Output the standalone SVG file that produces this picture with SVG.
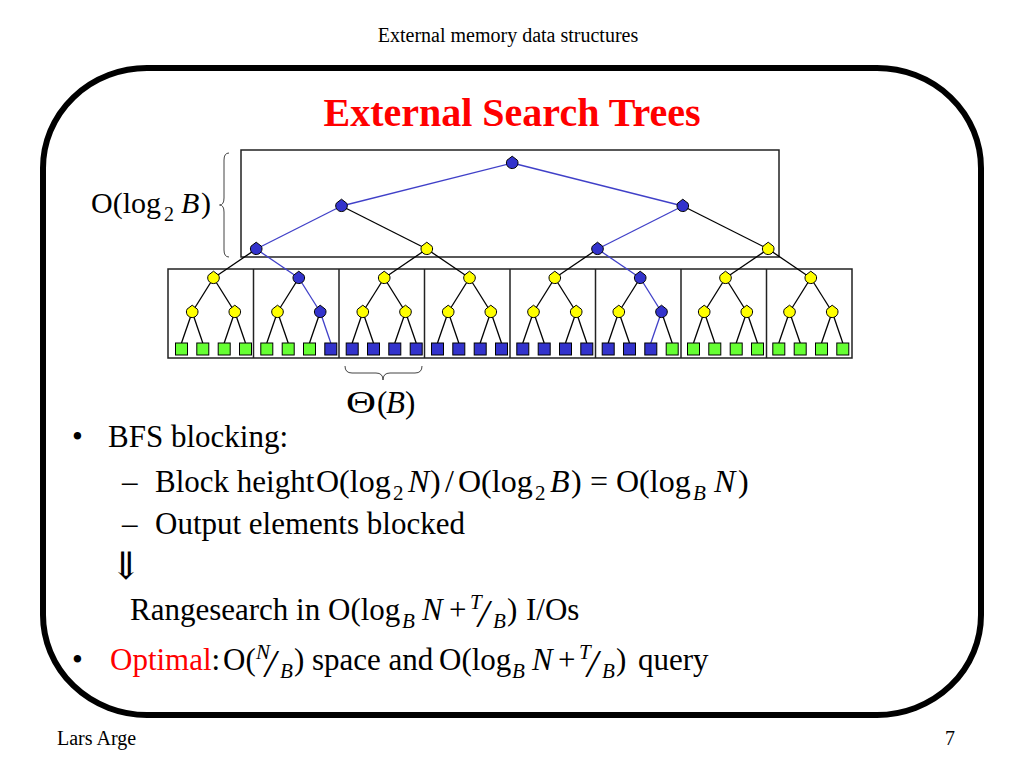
<svg xmlns="http://www.w3.org/2000/svg" xmlns:xlink="http://www.w3.org/1999/xlink" width="1024" height="768" viewBox="0 0 1024 768">
<defs>
<style>
text{font-family:"Liberation Serif","Times New Roman","DejaVu Serif",serif;fill:#000}
.eq{font-size:32px}
.sub{font-size:21px}
.it{font-style:italic}
.sl{font-size:40px;font-style:italic}
.e{stroke:#000;stroke-width:1.3}
.p{stroke:#4040C8;stroke-width:1.3}
.y{fill:#FFFF00;stroke:#000;stroke-width:1}
.b{fill:#3333CC;stroke:#000;stroke-width:1}
.lg{fill:#66FF33;stroke:#000;stroke-width:1}
.lb{fill:#3333CC;stroke:#000;stroke-width:1}
.box{fill:none;stroke:#222;stroke-width:1.5}
.brace{fill:none;stroke:#444;stroke-width:1}
</style>
<path id="nd" d="M0,-6.8 L5.2,-2.8 A5.8,5.8 0 1 1 -5.2,-2.8 Z"/>
</defs>
<rect x="0" y="0" width="1024" height="768" fill="#fff"/>
<text x="508" y="42" text-anchor="middle" font-size="20">External memory data structures</text>
<rect x="43" y="68" width="938" height="647" rx="104" ry="100" fill="none" stroke="#000" stroke-width="6"/>
<text x="512" y="126" text-anchor="middle" font-size="40" font-weight="bold" style="fill:#FF0000">External Search Trees</text>

<g id="blocks">
<rect class="box" x="241" y="150" width="538" height="107"/>
<rect class="box" x="168" y="269" width="684" height="89"/>
<line class="box" x1="253.5" y1="269" x2="253.5" y2="358"/>
<line class="box" x1="339" y1="269" x2="339" y2="358"/>
<line class="box" x1="424.5" y1="269" x2="424.5" y2="358"/>
<line class="box" x1="510" y1="269" x2="510" y2="358"/>
<line class="box" x1="595.5" y1="269" x2="595.5" y2="358"/>
<line class="box" x1="681" y1="269" x2="681" y2="358"/>
<line class="box" x1="766.5" y1="269" x2="766.5" y2="358"/>
</g>

<g id="connectors">
<line class="p" x1="512.2" y1="163" x2="341.5" y2="206"/>
<line class="p" x1="512.2" y1="163" x2="682.8" y2="206"/>
<line class="p" x1="341.5" y1="206" x2="256.2" y2="249"/>
<line class="e" x1="341.5" y1="206" x2="426.8" y2="249"/>
<line class="p" x1="682.8" y1="206" x2="597.5" y2="249"/>
<line class="e" x1="682.8" y1="206" x2="768.2" y2="249"/>
<line class="e" x1="256.2" y1="249" x2="213.5" y2="278"/>
<line class="p" x1="256.2" y1="249" x2="298.8" y2="278"/>
<line class="e" x1="426.8" y1="249" x2="384.2" y2="278"/>
<line class="e" x1="426.8" y1="249" x2="469.5" y2="278"/>
<line class="e" x1="597.5" y1="249" x2="554.8" y2="278"/>
<line class="p" x1="597.5" y1="249" x2="640.2" y2="278"/>
<line class="e" x1="768.2" y1="249" x2="725.5" y2="278"/>
<line class="e" x1="768.2" y1="249" x2="810.8" y2="278"/>
<line class="e" x1="213.5" y1="278" x2="192.2" y2="312"/>
<line class="e" x1="213.5" y1="278" x2="234.8" y2="312"/>
<line class="e" x1="298.8" y1="278" x2="277.5" y2="312"/>
<line class="p" x1="298.8" y1="278" x2="320.2" y2="312"/>
<line class="e" x1="384.2" y1="278" x2="362.8" y2="312"/>
<line class="e" x1="384.2" y1="278" x2="405.5" y2="312"/>
<line class="e" x1="469.5" y1="278" x2="448.2" y2="312"/>
<line class="e" x1="469.5" y1="278" x2="490.8" y2="312"/>
<line class="e" x1="554.8" y1="278" x2="533.5" y2="312"/>
<line class="e" x1="554.8" y1="278" x2="576.2" y2="312"/>
<line class="e" x1="640.2" y1="278" x2="618.8" y2="312"/>
<line class="p" x1="640.2" y1="278" x2="661.5" y2="312"/>
<line class="e" x1="725.5" y1="278" x2="704.2" y2="312"/>
<line class="e" x1="725.5" y1="278" x2="746.8" y2="312"/>
<line class="e" x1="810.8" y1="278" x2="789.5" y2="312"/>
<line class="e" x1="810.8" y1="278" x2="832.2" y2="312"/>
<line class="e" x1="192.2" y1="312" x2="181.5" y2="343"/>
<line class="e" x1="192.2" y1="312" x2="202.8" y2="343"/>
<line class="e" x1="234.8" y1="312" x2="224.2" y2="343"/>
<line class="e" x1="234.8" y1="312" x2="245.5" y2="343"/>
<line class="e" x1="277.5" y1="312" x2="266.8" y2="343"/>
<line class="e" x1="277.5" y1="312" x2="288.2" y2="343"/>
<line class="e" x1="320.2" y1="312" x2="309.5" y2="343"/>
<line class="p" x1="320.2" y1="312" x2="330.8" y2="343"/>
<line class="e" x1="362.8" y1="312" x2="352.2" y2="343"/>
<line class="e" x1="362.8" y1="312" x2="373.5" y2="343"/>
<line class="e" x1="405.5" y1="312" x2="394.8" y2="343"/>
<line class="e" x1="405.5" y1="312" x2="416.2" y2="343"/>
<line class="e" x1="448.2" y1="312" x2="437.5" y2="343"/>
<line class="e" x1="448.2" y1="312" x2="458.8" y2="343"/>
<line class="e" x1="490.8" y1="312" x2="480.2" y2="343"/>
<line class="e" x1="490.8" y1="312" x2="501.5" y2="343"/>
<line class="e" x1="533.5" y1="312" x2="522.8" y2="343"/>
<line class="e" x1="533.5" y1="312" x2="544.2" y2="343"/>
<line class="e" x1="576.2" y1="312" x2="565.5" y2="343"/>
<line class="e" x1="576.2" y1="312" x2="586.8" y2="343"/>
<line class="e" x1="618.8" y1="312" x2="608.2" y2="343"/>
<line class="e" x1="618.8" y1="312" x2="629.5" y2="343"/>
<line class="p" x1="661.5" y1="312" x2="650.8" y2="343"/>
<line class="e" x1="661.5" y1="312" x2="672.2" y2="343"/>
<line class="e" x1="704.2" y1="312" x2="693.5" y2="343"/>
<line class="e" x1="704.2" y1="312" x2="714.8" y2="343"/>
<line class="e" x1="746.8" y1="312" x2="736.2" y2="343"/>
<line class="e" x1="746.8" y1="312" x2="757.5" y2="343"/>
<line class="e" x1="789.5" y1="312" x2="778.8" y2="343"/>
<line class="e" x1="789.5" y1="312" x2="800.2" y2="343"/>
<line class="e" x1="832.2" y1="312" x2="821.5" y2="343"/>
<line class="e" x1="832.2" y1="312" x2="842.8" y2="343"/>
</g>

<g id="n-root"><use xlink:href="#nd" class="b" x="512.2" y="163"/></g>
<g id="n-a0"><use xlink:href="#nd" class="b" x="341.5" y="206"/></g>
<g id="n-a1"><use xlink:href="#nd" class="b" x="682.8" y="206"/></g>
<g id="n-b0"><use xlink:href="#nd" class="b" x="256.2" y="249"/></g>
<g id="n-b1"><use xlink:href="#nd" class="y" x="426.8" y="249"/></g>
<g id="n-b2"><use xlink:href="#nd" class="b" x="597.5" y="249"/></g>
<g id="n-b3"><use xlink:href="#nd" class="y" x="768.2" y="249"/></g>
<g id="n-c0"><use xlink:href="#nd" class="y" x="213.5" y="278"/></g>
<g id="n-c1"><use xlink:href="#nd" class="b" x="298.8" y="278"/></g>
<g id="n-c2"><use xlink:href="#nd" class="y" x="384.2" y="278"/></g>
<g id="n-c3"><use xlink:href="#nd" class="y" x="469.5" y="278"/></g>
<g id="n-c4"><use xlink:href="#nd" class="y" x="554.8" y="278"/></g>
<g id="n-c5"><use xlink:href="#nd" class="b" x="640.2" y="278"/></g>
<g id="n-c6"><use xlink:href="#nd" class="y" x="725.5" y="278"/></g>
<g id="n-c7"><use xlink:href="#nd" class="y" x="810.8" y="278"/></g>
<g id="n-d0"><use xlink:href="#nd" class="y" x="192.2" y="312"/></g>
<g id="n-d1"><use xlink:href="#nd" class="y" x="234.8" y="312"/></g>
<g id="n-d2"><use xlink:href="#nd" class="y" x="277.5" y="312"/></g>
<g id="n-d3"><use xlink:href="#nd" class="b" x="320.2" y="312"/></g>
<g id="n-d4"><use xlink:href="#nd" class="y" x="362.8" y="312"/></g>
<g id="n-d5"><use xlink:href="#nd" class="y" x="405.5" y="312"/></g>
<g id="n-d6"><use xlink:href="#nd" class="y" x="448.2" y="312"/></g>
<g id="n-d7"><use xlink:href="#nd" class="y" x="490.8" y="312"/></g>
<g id="n-d8"><use xlink:href="#nd" class="y" x="533.5" y="312"/></g>
<g id="n-d9"><use xlink:href="#nd" class="y" x="576.2" y="312"/></g>
<g id="n-d10"><use xlink:href="#nd" class="y" x="618.8" y="312"/></g>
<g id="n-d11"><use xlink:href="#nd" class="b" x="661.5" y="312"/></g>
<g id="n-d12"><use xlink:href="#nd" class="y" x="704.2" y="312"/></g>
<g id="n-d13"><use xlink:href="#nd" class="y" x="746.8" y="312"/></g>
<g id="n-d14"><use xlink:href="#nd" class="y" x="789.5" y="312"/></g>
<g id="n-d15"><use xlink:href="#nd" class="y" x="832.2" y="312"/></g>

<g id="leaf0"><rect class="lg" x="175.5" y="343" width="12" height="12"/></g>
<g id="leaf1"><rect class="lg" x="196.8" y="343" width="12" height="12"/></g>
<g id="leaf2"><rect class="lg" x="218.2" y="343" width="12" height="12"/></g>
<g id="leaf3"><rect class="lg" x="239.5" y="343" width="12" height="12"/></g>
<g id="leaf4"><rect class="lg" x="260.8" y="343" width="12" height="12"/></g>
<g id="leaf5"><rect class="lg" x="282.2" y="343" width="12" height="12"/></g>
<g id="leaf6"><rect class="lg" x="303.5" y="343" width="12" height="12"/></g>
<g id="leaf7"><rect class="lb" x="324.8" y="343" width="12" height="12"/></g>
<g id="leaf8"><rect class="lb" x="346.2" y="343" width="12" height="12"/></g>
<g id="leaf9"><rect class="lb" x="367.5" y="343" width="12" height="12"/></g>
<g id="leaf10"><rect class="lb" x="388.8" y="343" width="12" height="12"/></g>
<g id="leaf11"><rect class="lb" x="410.2" y="343" width="12" height="12"/></g>
<g id="leaf12"><rect class="lb" x="431.5" y="343" width="12" height="12"/></g>
<g id="leaf13"><rect class="lb" x="452.8" y="343" width="12" height="12"/></g>
<g id="leaf14"><rect class="lb" x="474.2" y="343" width="12" height="12"/></g>
<g id="leaf15"><rect class="lb" x="495.5" y="343" width="12" height="12"/></g>
<g id="leaf16"><rect class="lb" x="516.8" y="343" width="12" height="12"/></g>
<g id="leaf17"><rect class="lb" x="538.2" y="343" width="12" height="12"/></g>
<g id="leaf18"><rect class="lb" x="559.5" y="343" width="12" height="12"/></g>
<g id="leaf19"><rect class="lb" x="580.8" y="343" width="12" height="12"/></g>
<g id="leaf20"><rect class="lb" x="602.2" y="343" width="12" height="12"/></g>
<g id="leaf21"><rect class="lb" x="623.5" y="343" width="12" height="12"/></g>
<g id="leaf22"><rect class="lb" x="644.8" y="343" width="12" height="12"/></g>
<g id="leaf23"><rect class="lg" x="666.2" y="343" width="12" height="12"/></g>
<g id="leaf24"><rect class="lg" x="687.5" y="343" width="12" height="12"/></g>
<g id="leaf25"><rect class="lg" x="708.8" y="343" width="12" height="12"/></g>
<g id="leaf26"><rect class="lg" x="730.2" y="343" width="12" height="12"/></g>
<g id="leaf27"><rect class="lg" x="751.5" y="343" width="12" height="12"/></g>
<g id="leaf28"><rect class="lg" x="772.8" y="343" width="12" height="12"/></g>
<g id="leaf29"><rect class="lg" x="794.2" y="343" width="12" height="12"/></g>
<g id="leaf30"><rect class="lg" x="815.5" y="343" width="12" height="12"/></g>
<g id="leaf31"><rect class="lg" x="836.8" y="343" width="12" height="12"/></g>

<g id="height-label">
<path class="brace" d="M229,153 Q224,153 224,160 L224,198 Q224,205 219.5,205 Q224,205 224,212 L224,250 Q224,257 229,257"/>
<text y="213" font-size="30"><tspan x="91">O(log</tspan><tspan x="164" dy="8" font-size="20">2</tspan><tspan x="181" dy="-8" class="it">B</tspan><tspan x="201">)</tspan></text>
</g>
<g id="block-label">
<path class="brace" d="M345,366 Q345,373 352,373 L376,373 Q383,373 383,380 Q383,373 390,373 L415,373 Q422,373 422,366"/>
<text x="346" y="413" font-size="31" textLength="30" lengthAdjust="spacingAndGlyphs">Θ</text>
<text y="413" font-size="31"><tspan x="377">(</tspan><tspan x="386" class="it">B</tspan><tspan x="405">)</tspan></text>
</g>

<g id="bullets" font-size="31">
<text x="72" y="447">•</text>
<text x="108" y="447">BFS blocking:</text>
<text x="122" y="492">–</text>
<text x="155" y="492">Block height</text>
<text y="492" class="eq"><tspan x="316">O(log</tspan><tspan x="393" dy="8" class="sub">2</tspan><tspan x="408" dy="-8" class="it">N</tspan><tspan x="430">)</tspan><tspan x="445">/</tspan><tspan x="458">O(log</tspan><tspan x="535" dy="8" class="sub">2</tspan><tspan x="550" dy="-8" class="it">B</tspan><tspan x="571">)</tspan><tspan x="590">=</tspan><tspan x="616">O(log</tspan><tspan x="693" dy="8" class="sub it">B</tspan><tspan x="714" dy="-8" class="it">N</tspan><tspan x="738">)</tspan></text>
<text x="122" y="534">–</text>
<text x="155" y="534">Output elements blocked</text>
<text x="110" y="579" font-size="38">⇓</text>
<text x="130" y="620">Rangesearch in</text>
<text y="620"><tspan x="328">O(log</tspan><tspan x="402" dy="8" class="sub it">B</tspan><tspan x="422" dy="-8" class="it">N</tspan><tspan x="449">+</tspan><tspan x="470" dy="-11" class="sub it">T</tspan><tspan x="478" dy="18" class="sl">/</tspan><tspan x="493" dy="1" class="sub it">B</tspan><tspan x="507" dy="-8">)</tspan><tspan x="526">I/Os</tspan></text>
<text x="72" y="670">•</text>
<text y="670"><tspan x="110" style="fill:#FF0000">Optimal</tspan><tspan>:</tspan><tspan x="223">O(</tspan><tspan x="256" dy="-11" class="sub it">N</tspan><tspan x="265" dy="18" class="sl">/</tspan><tspan x="280" dy="1" class="sub it">B</tspan><tspan x="294" dy="-8">)</tspan><tspan x="312">space and</tspan><tspan x="439">O(log</tspan><tspan x="512" dy="8" class="sub it">B</tspan><tspan x="532" dy="-8" class="it">N</tspan><tspan x="558">+</tspan><tspan x="579" dy="-11" class="sub it">T</tspan><tspan x="587" dy="18" class="sl">/</tspan><tspan x="602" dy="1" class="sub it">B</tspan><tspan x="616" dy="-8">)</tspan><tspan x="638">query</tspan></text>
</g>

<text x="57" y="745" font-size="20">Lars Arge</text>
<text x="945" y="745" font-size="20">7</text>
</svg>
